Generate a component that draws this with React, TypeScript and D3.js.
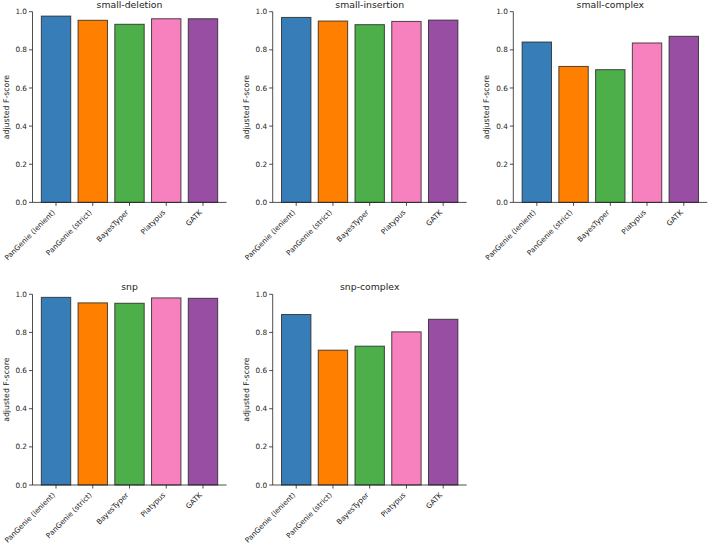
import React from "react";
import * as d3 from "d3";

const tools = ["PanGenie (lenient)", "PanGenie (strict)", "BayesTyper", "Platypus", "GATK"];
const colors = ["#377eb8", "#ff7f00", "#4daf4a", "#f781bf", "#984ea3"];
const panelTitles = ["small-deletion", "small-insertion", "small-complex", "snp", "snp-complex"];
const smallDeletion = [0.977, 0.955, 0.934, 0.963, 0.963];
const smallInsertion = [0.970, 0.951, 0.932, 0.949, 0.956];
const smallComplex = [0.841, 0.713, 0.696, 0.836, 0.871];
const snp = [0.984, 0.955, 0.953, 0.981, 0.979];
const snpComplex = [0.894, 0.707, 0.728, 0.803, 0.869];
const yTicks = [0, 0.2, 0.4, 0.6, 0.8, 1.0];

const panelValues = [smallDeletion, smallInsertion, smallComplex, snp, snpComplex];
const panelPos = [
  { x: 32.5, y: 11.7 },
  { x: 272.7, y: 11.7 },
  { x: 513.3, y: 11.7 },
  { x: 32.5, y: 294.3 },
  { x: 272.7, y: 294.3 },
];
const W = 194;
const H = 190.7;
const FONT = "DejaVu Sans, sans-serif";
const TICK_FS = 7.3;

function Panel({ title, values, x0, y0 }: { title: string; values: number[]; x0: number; y0: number }) {
  const x = d3.scaleLinear().domain([-0.64, 4.64]).range([0, W]);
  const y = d3.scaleLinear().domain([0, 1]).range([H, 0]);
  const bw = x(0.8) - x(0);
  return (
    <g transform={`translate(${x0},${y0})`}>
      {values.map((v, i) => (
        <rect
          key={i}
          x={x(i - 0.4)}
          y={y(v)}
          width={bw}
          height={y(0) - y(v)}
          fill={colors[i]}
          stroke="#222"
          strokeOpacity={0.8}
          strokeWidth={1}
        />
      ))}
      <line x1={0} x2={0} y1={0} y2={H} stroke="#222" strokeWidth={0.8} />
      <line x1={0} x2={W} y1={H} y2={H} stroke="#222" strokeWidth={0.8} />
      {yTicks.map((t) => (
        <g key={t} transform={`translate(0,${y(t)})`}>
          <line x1={-3.5} x2={0} stroke="#222" strokeWidth={0.8} />
          <text x={-5.5} dy="0.35em" textAnchor="end" fontSize={TICK_FS} fontFamily={FONT} fill="#222">
            {t.toFixed(1)}
          </text>
        </g>
      ))}
      {tools.map((t, i) => (
        <g key={t} transform={`translate(${x(i)},${H})`}>
          <line y1={0} y2={3.5} stroke="#222" strokeWidth={0.8} />
          <text
            transform={`translate(-0.5,10.5) rotate(-45)`}
            textAnchor="end"
            fontSize={TICK_FS}
            fontFamily={FONT}
            fill="#222"
          >
            {t}
          </text>
        </g>
      ))}
      <text
        transform={`translate(-24,${H / 2}) rotate(-90)`}
        textAnchor="middle"
        fontSize={7.8}
        fontFamily={FONT}
        fill="#222"
      >
        adjusted F-score
      </text>
      <text x={W / 2} y={-4} textAnchor="middle" fontSize={9.3} fontFamily={FONT} fill="#222">
        {title}
      </text>
    </g>
  );
}

export default function App() {
  return (
    <svg width={708} height={546} style={{ position: "absolute", left: 0, top: 0, background: "#fff" }}>
      <rect width={708} height={546} fill="#fff" />
      {panelTitles.map((t, i) => (
        <Panel key={t} title={t} values={panelValues[i]} x0={panelPos[i].x} y0={panelPos[i].y} />
      ))}
    </svg>
  );
}
